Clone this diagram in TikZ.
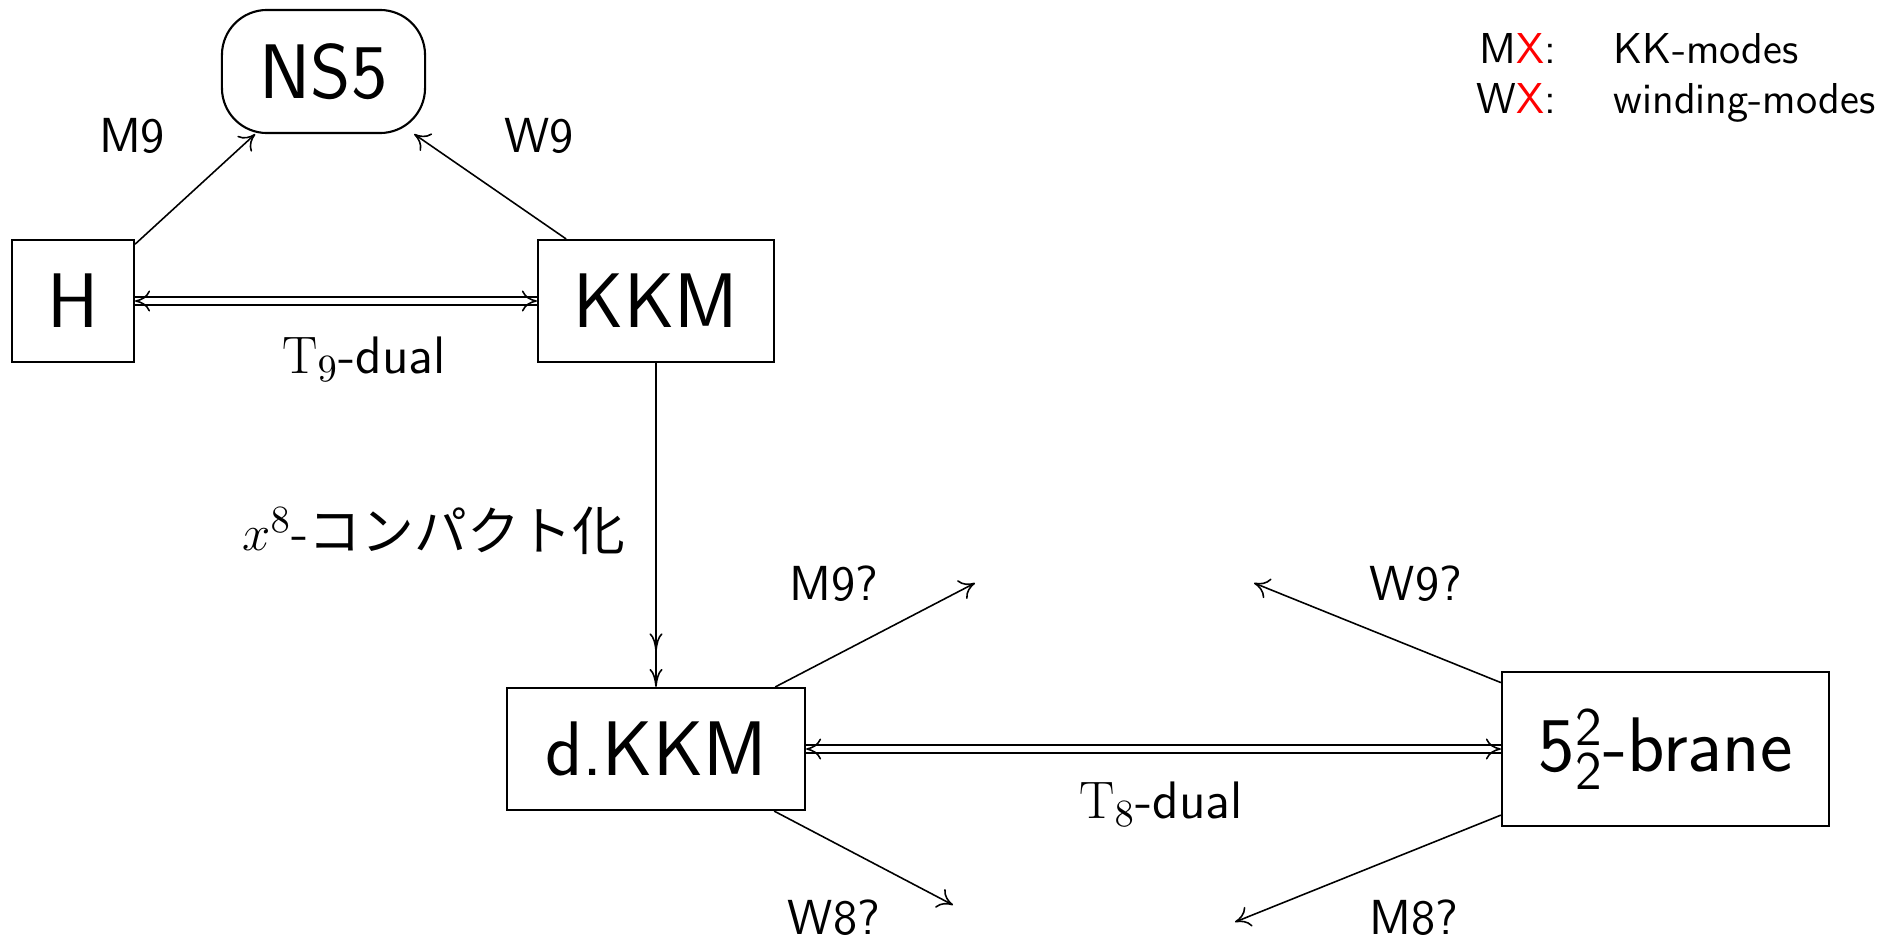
\documentclass[tikz,border=0pt]{standalone}
\usepackage{fontspec}
\usepackage{xcolor}
\newfontfamily\jpfont{Noto Sans CJK JP}
\usetikzlibrary{arrows.meta,decorations.markings,calc}
\begin{document}
\begin{tikzpicture}[x=0.01cm,y=-0.01cm,
  tip/.style={-{To[length=0.15cm,width=0.21cm]}},
  vtip/.style={-{To[length=0.18cm,width=0.13cm]}},
  box/.style={draw,line width=0.6pt,inner sep=0pt,font=\fontsize{22}{26}\selectfont\sffamily},
  lbl/.style={inner sep=0pt,font=\fontsize{14}{17}\selectfont\sffamily},
  biglbl/.style={inner sep=0pt,font=\fontsize{15}{18}\selectfont\sffamily},
  leg/.style={inner sep=0pt,font=\fontsize{12.3}{15}\selectfont\sffamily},
  con/.style={line width=0.45pt},
  dbl/.style={line width=0.45pt,double,double distance=0.065cm},
  midtip/.style={postaction={decorate},decoration={markings,mark=at position #1 with {\arrow{To[length=0.18cm,width=0.13cm]}}}}
]
\useasboundingbox (0,0) rectangle (1903,942);
% nodes
\node[box,rounded corners=0.45cm,minimum width=2.03cm,minimum height=1.23cm] (NS5) at (323.5,71.5) {NS5};
\node[box,minimum width=1.22cm,minimum height=1.22cm] (H) at (73,301) {H};
\node[box,minimum width=2.36cm,minimum height=1.22cm] (KKM) at (656,301) {KKM};
\node[box,minimum width=2.98cm,minimum height=1.22cm] (dKKM) at (656,749) {d.KKM};
\node[box,minimum width=3.27cm,minimum height=1.54cm] (brane) at (1665.5,749) {$\mathsf{5}^{\mathsf{2}}_{\mathsf{2}}$-brane};
% free ends
\coordinate (m9q) at (975,583);
\coordinate (w8q) at (953,905);
\coordinate (w9q) at (1254,583);
\coordinate (m8q) at (1235,922);
% connectors
\draw[con,tip] (H) -- (NS5);
\draw[con,tip] (KKM) -- (NS5);
\draw[dbl] (H) -- (KKM);
\draw[con,tip] ([xshift=-0.01cm]KKM.west) -- (KKM.west);
\draw[con,tip] ([xshift=0.01cm]H.east) -- (H.east);
\draw[con,vtip,midtip=0.89] (KKM) -- (dKKM);
\draw[dbl] (dKKM) -- (brane);
\draw[con,tip] ([xshift=-0.01cm]brane.west) -- (brane.west);
\draw[con,tip] ([xshift=0.01cm]dKKM.east) -- (dKKM.east);
\draw[con,tip] (dKKM) -- (m9q);
\draw[con,tip] (dKKM) -- (w8q);
\draw[con,tip] (brane) -- (w9q);
\draw[con,tip] (brane) -- (m8q);
% labels
\node[lbl] (lm9) at (132,136) {M9};
\node[lbl] (lw9) at (539,136) {W9};
\node[biglbl] (lt9) at (364,359) {$\mathrm{T}_9$-dual};
\node[biglbl] (lx8) at (434,531) {$x^8$-{\jpfont コンパクト化}};
\node[lbl] (lm9q) at (834,584) {M9?};
\node[lbl] (lw9q) at (1416,584) {W9?};
\node[biglbl] (lt8) at (1161,804) {$\mathrm{T}_8$-dual};
\node[lbl] (lw8q) at (834,918) {W8?};
\node[lbl] (lm8q) at (1414,918) {M8?};
% legend
\node[leg,anchor=base east] (legm) at (1557,63) {M\textcolor{red}{X}:};
\node[leg,anchor=base west] (legmt) at (1613,63) {KK-modes};
\node[leg,anchor=base east] (legw) at (1557,113) {W\textcolor{red}{X}:};
\node[leg,anchor=base west] (legwt) at (1613,113) {winding-modes};
\end{tikzpicture}
\end{document}
